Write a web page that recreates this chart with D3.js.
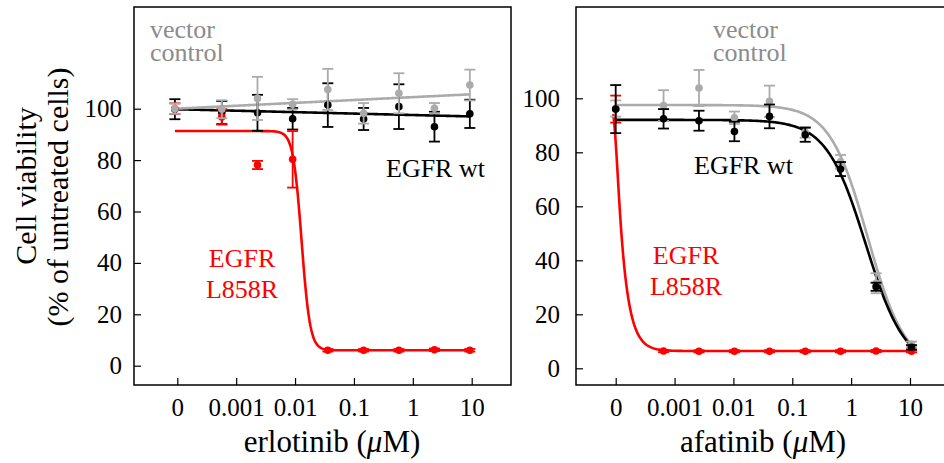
<!DOCTYPE html>
<html>
<head>
<meta charset="utf-8">
<script src="https://cdn.jsdelivr.net/npm/d3@7"></script>
<style>
  body { margin: 0; background: #fff; }
  svg { display: block; font-family: "Liberation Serif", "Times New Roman", serif; }
</style>
</head>
<body>
<svg id="vis" width="944" height="463"></svg>
<script>
// Axis ticks
var xTickVals = [1e-4, 1e-3, 1e-2, 0.1, 1, 10];
var xTickText = ['0', '0.001', '0.01', '0.1', '1', '10'];
var yTickVals = [0, 20, 40, 60, 80, 100];

// Erlotinib panel (dose in uM, viability in %)
var erloDose   = [0, 0.00057, 0.0023, 0.0091, 0.036, 0.146, 0.58, 2.33, 9.3];
var erloWt     = [99.8, 98.5, 98.4, 96.1, 101.4, 96.0, 100.8, 93.0, 98.0];
var erloWtErr  = [3.9, 4.5, 7.0, 4.2, 8.5, 4.3, 8.7, 5.8, 5.5];
var erloVec    = [100.0, 99.8, 104.0, 101.7, 107.5, 98.2, 106.0, 100.2, 109.2];
var erloVecErr = [2.0, 3.5, 8.4, 2.0, 8.0, 4.0, 7.8, 2.0, 6.0];
var erloMut    = [100.0, 96.8, 78.1, 80.3, 6.0, 6.0, 6.0, 6.2, 6.0];
var erloMutErr = [2.1, 3.0, 1.6, 11.0, 0.5, 0.5, 0.5, 0.5, 0.5];

// Afatinib panel
var afaDose   = [0, 0.00065, 0.0026, 0.0104, 0.041, 0.166, 0.66, 2.65, 10.6];
var afaWt     = [96.0, 92.4, 91.7, 87.7, 93.3, 86.5, 73.8, 30.2, 7.8];
var afaWtErr  = [8.9, 3.6, 3.7, 3.6, 4.4, 2.6, 2.6, 1.5, 0.8];
var afaVec    = [96.2, 97.3, 103.8, 92.8, 98.9, 87.4, 76.5, 31.5, 8.9];
var afaVecErr = [3.0, 5.7, 6.7, 2.3, 5.8, 2.0, 2.5, 3.7, 1.0];
var afaMut    = [96.0, 6.4, 6.3, 6.3, 6.3, 6.3, 6.3, 6.4, 6.3];
var afaMutErr = [5.0, 0.4, 0.4, 0.4, 0.4, 0.4, 0.4, 0.4, 0.4];

// Fitted curves (linear in log dose, or logistic)
var erloWtFit  = {type: 'lin', a: 97.54, b: -0.559};
var erloVecFit = {type: 'lin', a: 104.5, b: 1.118};
var erloMutFit = {type: 'logistic', top: 91.3, bottom: 6, c: 0.0129, h: 6, s: 1};
var afaWtFit   = {type: 'logistic', top: 92, bottom: 0, c: 1.77, h: 1.3, s: 1};
var afaVecFit  = {type: 'logistic', top: 97.5, bottom: 0, c: 1.9, h: 1.35, s: 1};
var afaMutFit  = {type: 'logistic', top: 100, bottom: 6.4, c: 9.7e-5, h: 15, s: 0.2};

var RED = '#ff0000', GREY = '#ababab', GREYTEXT = '#8c8c8c';

var svg = d3.select('#vis');

function fitValue(f, x) {
  if (f.type === 'lin') return f.a + f.b * Math.log10(x);
  return f.bottom + (f.top - f.bottom) / Math.pow(1 + Math.pow(x / f.c, f.h), f.s);
}

function drawPanel(p) {
  var g = svg.append('g');

  var x = d3.scaleLog().domain([1e-4, 10]).range([p.x0, p.x10]);
  var y = d3.scaleLinear().domain([0, 100]).range([p.y0, p.y100]);
  var xPos = function(d) { return d === 0 ? p.zeroAt : d; };

  // frame
  g.append('rect')
    .attr('x', p.left).attr('y', p.top)
    .attr('width', p.right - p.left).attr('height', p.bottom - p.top)
    .attr('fill', 'none').attr('stroke', '#000').attr('stroke-width', 1.5);

  // X axis
  var xa = g.append('g')
    .attr('transform', 'translate(0,' + p.bottom + ')')
    .call(d3.axisBottom(x).tickValues(xTickVals)
      .tickFormat(function(d, i) { return xTickText[i]; })
      .tickSizeInner(-7).tickSizeOuter(0).tickPadding(13));
  xa.select('.domain').remove();

  // Y axis
  var ya = g.append('g')
    .attr('transform', 'translate(' + p.left + ',0)')
    .call(d3.axisLeft(y).tickValues(yTickVals)
      .tickSizeInner(-7).tickSizeOuter(0).tickPadding(p.yPad));
  ya.select('.domain').remove();

  [xa, ya].forEach(function(a) {
    a.attr('font-family', null).attr('font-size', null);
    a.selectAll('text').style('font-size', '25px').attr('fill', '#000');
    a.selectAll('line').attr('stroke', '#000').attr('stroke-width', 1.2);
  });

  // fitted lines
  var line = d3.line()
    .x(function(d) { return x(d[0]); })
    .y(function(d) { return y(d[1]); });

  p.series.forEach(function(s) {
    var lo = Math.log10(s.start || p.zeroAt);
    var hi = Math.log10(s.dose[s.dose.length - 1]);
    var pts = d3.range(0, 301).map(function(i) {
      var xv = Math.pow(10, lo + (hi - lo) * i / 300);
      return [xv, fitValue(s.fit, xv)];
    });
    g.append('path')
      .datum(pts)
      .attr('fill', 'none')
      .attr('stroke', s.color)
      .attr('stroke-width', 2.6)
      .attr('d', line);
  });

  // error bars + points
  p.series.forEach(function(s) {
    var rows = s.dose.map(function(d, i) { return {x: xPos(d), m: s.mean[i], e: s.err[i]}; });
    var eb = g.append('g').attr('stroke', s.color).attr('stroke-width', 1.8);
    rows.forEach(function(r) {
      var cx = x(r.x);
      eb.append('line').attr('x1', cx).attr('x2', cx).attr('y1', y(r.m - r.e)).attr('y2', y(r.m + r.e));
      eb.append('line').attr('x1', cx - 5.5).attr('x2', cx + 5.5).attr('y1', y(r.m - r.e)).attr('y2', y(r.m - r.e));
      eb.append('line').attr('x1', cx - 5.5).attr('x2', cx + 5.5).attr('y1', y(r.m + r.e)).attr('y2', y(r.m + r.e));
    });
    g.selectAll(null)
      .data(rows)
      .enter()
      .append('circle')
      .attr('cx', function(d) { return x(d.x); })
      .attr('cy', function(d) { return y(d.m); })
      .attr('r', 3.8)
      .attr('fill', s.color);
  });

  // labels (two-line labels as one text with tspans)
  var t = g.append('g').style('font-size', '26px');
  var vec = t.append('text').attr('fill', GREYTEXT);
  vec.append('tspan').attr('x', p.vecX).attr('y', 38).text('vector');
  vec.append('tspan').attr('x', p.vecX).attr('y', 61).text('control');

  t.append('text').attr('x', p.wtX).attr('y', p.wtY).attr('fill', '#000').text('EGFR wt');

  var mut = t.append('text').attr('fill', RED).attr('text-anchor', 'middle');
  mut.append('tspan').attr('x', p.mutX).attr('y', p.mutY).text('EGFR');
  mut.append('tspan').attr('x', p.mutX).attr('y', p.mutY + 31).text('L858R');

  // x title
  var xt = g.append('text')
    .attr('x', p.titleX).attr('y', 452)
    .attr('text-anchor', 'middle')
    .style('font-size', '31px');
  xt.append('tspan').text(p.drug + ' (');
  xt.append('tspan').style('font-style', 'italic').text('\u03bc');
  xt.append('tspan').text('M)');
}

drawPanel({
  left: 134, top: 7, right: 511, bottom: 385,
  x0: 177.3, x10: 471.7, y0: 365.7, y100: 108.7, zeroAt: 9.1e-5, yPad: 12,
  vecX: 150, wtX: 386, wtY: 177, mutX: 242, mutY: 267,
  titleX: 332, drug: 'erlotinib',
  series: [
    {dose: erloDose, mean: erloWt,  err: erloWtErr,  fit: erloWtFit,  color: '#000'},
    {dose: erloDose, mean: erloMut, err: erloMutErr, fit: erloMutFit, color: RED},
    {dose: erloDose, mean: erloVec, err: erloVecErr, fit: erloVecFit, color: GREY}
  ]
});

drawPanel({
  left: 576, top: 7, right: 953, bottom: 385,
  x0: 615.7, x10: 910, y0: 368.3, y100: 98.3, zeroAt: 1e-4, yPad: 16,
  vecX: 713, wtX: 694, wtY: 174, mutX: 686, mutY: 264,
  titleX: 763, drug: 'afatinib',
  series: [
    {dose: afaDose, mean: afaMut, err: afaMutErr, fit: afaMutFit, color: RED, start: 9.1e-5},
    {dose: afaDose, mean: afaVec, err: afaVecErr, fit: afaVecFit, color: GREY},
    {dose: afaDose, mean: afaWt,  err: afaWtErr,  fit: afaWtFit,  color: '#000'}
  ]
});

// shared y title
var yt = svg.append('text')
  .attr('transform', 'translate(36,197) rotate(-90)')
  .attr('text-anchor', 'middle')
  .style('font-size', '30px');
yt.append('tspan').attr('x', 11).attr('y', 0).text('Cell viability');
yt.append('tspan').attr('x', 0).attr('y', 32).text('(% of untreated cells)');
</script>
</body>
</html>
